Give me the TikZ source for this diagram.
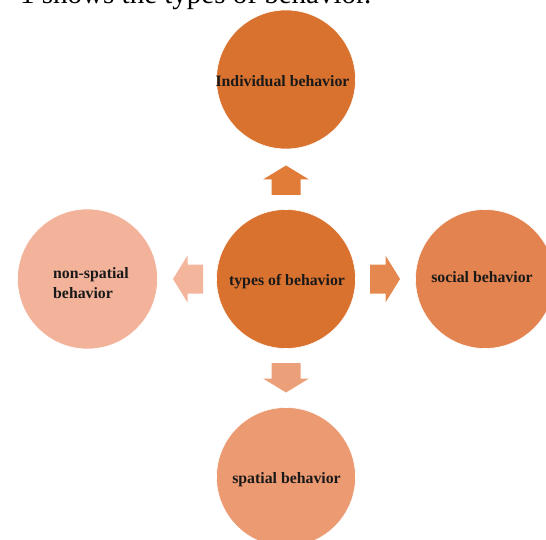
\documentclass[tikz,border=0pt]{standalone}
\usepackage{fontspec}
\setmainfont{Liberation Serif}
\definecolor{cMain}{HTML}{D9722F}
\definecolor{cTop}{HTML}{D9722F}
\definecolor{cRight}{HTML}{E3834F}
\definecolor{cBottom}{HTML}{EB9A72}
\definecolor{cLeft}{HTML}{F3B39A}
\definecolor{aTop}{HTML}{E07B38}
\definecolor{aRight}{HTML}{E5884F}
\definecolor{aBottom}{HTML}{ECA07A}
\definecolor{aLeft}{HTML}{F3B69C}
\tikzset{
  bubble/.style={circle, inner sep=0pt, minimum size=139pt, draw=white, line width=0.6pt},
  lbl/.style={inner sep=0pt, font=\fontsize{15.8}{20}\selectfont\bfseries, text=black!90},
  blockarrow/.style={draw=none}
}
\begin{document}
\begin{tikzpicture}[x=1pt,y=-1pt]
\useasboundingbox (0,0) rectangle (546,540);
\clip (0,0) rectangle (546,540);
% caption fragment cut at the top
\node[anchor=base west, inner sep=0pt, font=\fontsize{29}{32}\selectfont] (cap) at (20,3.5) {1 shows the types of behavior.};
% circles
\node[bubble, fill=cMain] (c) at (286,279) {};
\node[bubble, fill=cTop] (t) at (286,79.5) {};
\node[bubble, fill=cBottom] (b) at (286,477) {};
\node[bubble, fill=cLeft, minimum size=140pt] (l) at (87.5,279) {};
\node[bubble, fill=cRight] (r) at (485,279) {};
% labels
\node[lbl, anchor=base] (ct) at (287,285) {types of behavior};
\node[lbl, anchor=base] (tt) at (282.5,87) {Individual behavior};
\node[lbl, anchor=base] (bt) at (286.5,483) {spatial behavior};
\node[lbl, anchor=base] (rt) at (482,282) {social behavior};
\node[lbl, anchor=west, align=left] (lt) at (53,283) {non-spatial\\behavior};
% block arrows
\begin{scope}[shift={(c.center)}]
\fill[aTop, rotate=90] (84,-14.5) -- (99.5,-14.5) -- (99.5,-23) -- (113.5,0) -- (99.5,23) -- (99.5,14.5) -- (84,14.5) -- cycle;
\fill[aRight] (84,-14.5) -- (99.5,-14.5) -- (99.5,-23.5) -- (114,0) -- (99.5,23.5) -- (99.5,14.5) -- (84,14.5) -- cycle;
\fill[aBottom, rotate=-90] (84,-14.5) -- (99.5,-14.5) -- (99.5,-23) -- (113.5,0) -- (99.5,23) -- (99.5,14.5) -- (84,14.5) -- cycle;
\fill[aLeft, rotate=180] (83,-14.5) -- (98.5,-14.5) -- (98.5,-23.5) -- (113,0) -- (98.5,23.5) -- (98.5,14.5) -- (83,14.5) -- cycle;
\end{scope}
\end{tikzpicture}
\end{document}
